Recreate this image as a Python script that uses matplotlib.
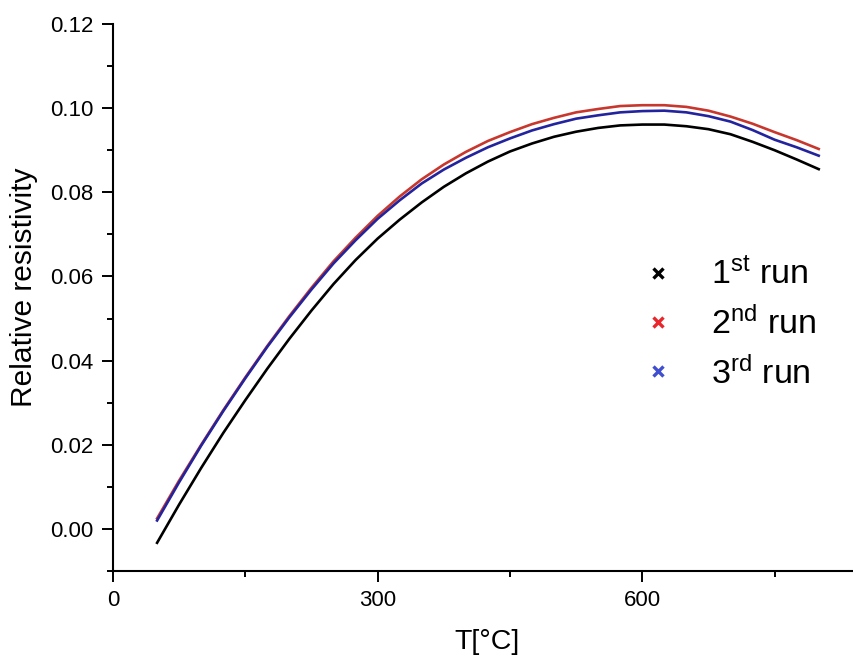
import matplotlib
matplotlib.use('Agg')
import matplotlib.pyplot as plt
from matplotlib.lines import Line2D
from matplotlib.ticker import MultipleLocator, FormatStrFormatter

plt.rcParams['font.family'] = ['Liberation Sans', 'DejaVu Sans']
plt.rcParams['mathtext.default'] = 'regular'

# temperature grid (deg C) and relative resistivity of the three heating runs
temp = [50, 75, 100, 125, 150, 175, 200, 225, 250, 275, 300, 325, 350, 375, 400, 425,
        450, 475, 500, 525, 550, 575, 600, 625, 650, 675, 700, 725, 750, 775, 800]
run1 = [-0.0033, 0.0058, 0.0145, 0.0228, 0.0306, 0.0381, 0.0452, 0.0519,
        0.0582, 0.0639, 0.0690, 0.0735, 0.0776, 0.0813, 0.0845, 0.0873,
        0.0897, 0.0916, 0.0932, 0.0944, 0.0953, 0.0959, 0.0961, 0.0961,
        0.0957, 0.0950, 0.0938, 0.0920, 0.0900, 0.0878, 0.0855]
run2 = [0.0025, 0.0115, 0.0200, 0.0282, 0.0360, 0.0435, 0.0506, 0.0573,
        0.0636, 0.0692, 0.0744, 0.0790, 0.0831, 0.0866, 0.0896, 0.0922,
        0.0943, 0.0962, 0.0977, 0.0990, 0.0998, 0.1005, 0.1007, 0.1007,
        0.1003, 0.0994, 0.0980, 0.0963, 0.0943, 0.0924, 0.0903]
run3 = [0.0020, 0.0111, 0.0198, 0.0280, 0.0358, 0.0433, 0.0503, 0.0569,
        0.0631, 0.0686, 0.0737, 0.0781, 0.0821, 0.0854, 0.0882, 0.0907,
        0.0928, 0.0947, 0.0962, 0.0975, 0.0983, 0.0990, 0.0993, 0.0994,
        0.0990, 0.0981, 0.0968, 0.0948, 0.0925, 0.0907, 0.0887]

labels = [r'1$^{st}$ run', r'2$^{nd}$ run', r'3$^{rd}$ run']
line_colors = ['#000000', '#c8372d', '#23239e']
mark_colors = ['#000000', '#e8262b', '#3f4fcf']

fig = plt.figure(figsize=(8.54, 6.63), dpi=100)
ax = fig.add_axes([0.1323, 0.1388, 0.8677, 0.825])

ax.plot(temp, run1, color=line_colors[0], lw=1.9, zorder=2)
ax.plot(temp, run2, color=line_colors[1], lw=1.9, zorder=3)
ax.plot(temp, run3, color=line_colors[2], lw=1.9, zorder=4)

ax.set_xlim(0, 840)
ax.set_ylim(-0.01, 0.12)
ax.xaxis.set_major_locator(MultipleLocator(300))
ax.xaxis.set_minor_locator(MultipleLocator(150))
ax.yaxis.set_major_locator(MultipleLocator(0.02))
ax.yaxis.set_minor_locator(MultipleLocator(0.01))
ax.yaxis.set_major_formatter(FormatStrFormatter('%.2f'))

for side in ['top', 'right']:
    ax.spines[side].set_visible(False)
for side in ['left', 'bottom']:
    ax.spines[side].set_linewidth(1.5)

ax.tick_params(which='major', direction='out', length=8, width=1.4,
               labelsize=16, pad=6)
ax.tick_params(which='minor', direction='out', length=4.5, width=1.4)

ax.set_xlabel('T[°C]', fontsize=20.5)
ax.xaxis.set_label_coords(0.505, -0.106)
ax.set_ylabel('Relative resistivity', fontsize=21.5)
ax.yaxis.set_label_coords(-0.101, 0.519)

handles = [Line2D([], [], ls='none', marker='x', markersize=7, mew=2.4, color=c)
           for c in mark_colors]
ax.legend(handles, labels, loc='center left', bbox_to_anchor=(0.69, 0.451),
          frameon=False, fontsize=24.5, handlelength=1.0, handletextpad=1.05,
          labelspacing=0.46, borderpad=0)

fig.savefig('out.png', dpi=100)
